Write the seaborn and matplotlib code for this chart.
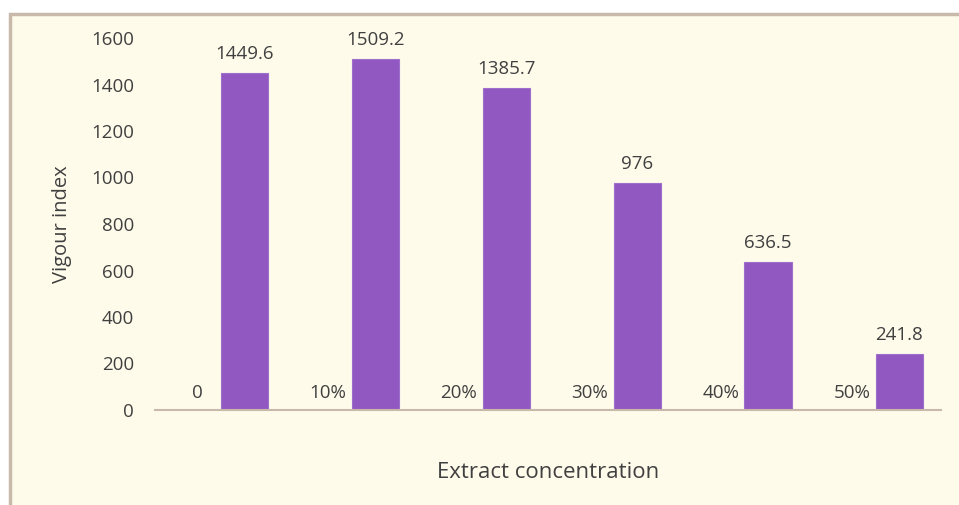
import matplotlib
matplotlib.use("Agg")
import matplotlib.pyplot as plt
from matplotlib.patches import Rectangle
import seaborn as sns
import pandas as pd

categories = ["0", "10%", "20%", "30%", "40%", "50%"]
vigour = [1449.6, 1509.2, 1385.7, 976, 636.5, 241.8]
label_series = [0, 0, 0, 0, 0, 0]

sns.set_theme(style="white")
plt.rcParams['font.family'] = ['Open Sans', 'DejaVu Sans']

text_color = "#404040"
cream = "#FEFBEA"
tan = "#C9B9AA"
bar_color = "#9158C2"

df = pd.DataFrame({
    "conc": categories * 2,
    "value": label_series + vigour,
    "series": ["cat"] * len(categories) + ["vigour"] * len(categories),
})

fig = plt.figure(figsize=(9.59, 5.05), dpi=100)
fig.patch.set_facecolor("white")
bg = Rectangle((10 / 959, -0.02), 1.0, 1 - 14 / 505 + 0.02,
               transform=fig.transFigure, facecolor=cream,
               edgecolor=tan, linewidth=2.5, zorder=-10)
fig.add_artist(bg)

ax = fig.add_axes([155 / 959, 1 - 410 / 505, (941 - 155) / 959, (410 - 38) / 505])
ax.set_facecolor("none")
ax.set_zorder(5)

sns.barplot(data=df, x="conc", y="value", hue="series", order=categories,
            hue_order=["cat", "vigour"],
            palette={"cat": bar_color, "vigour": bar_color}, saturation=1,
            width=0.72, dodge=True, legend=False, ax=ax, errorbar=None,
            edgecolor="#9F6FCB", linewidth=0.8)

cat_container, vig_container = ax.containers[0], ax.containers[1]
for bar in cat_container:
    bar.set_alpha(0)

for bar, lab in zip(cat_container, categories):
    ax.annotate(lab, (bar.get_x() + bar.get_width() / 2, 0),
                xytext=(0, 9), textcoords="offset points",
                ha="center", va="baseline", fontsize=13.5, color=text_color)
for bar, v in zip(vig_container, vigour):
    ax.annotate(f"{v:g}", (bar.get_x() + bar.get_width() / 2, bar.get_height()),
                xytext=(0, 10), textcoords="offset points",
                ha="center", va="baseline", fontsize=13.5, color=text_color,
                annotation_clip=False)

ax.set_ylim(0, 1600)
ax.set_xlim(-0.5, 5.5)
ax.set_yticks(range(0, 1601, 200))
ax.tick_params(axis="y", length=0, pad=15, labelsize=13.5, labelcolor=text_color)
ax.set_xticks([])
ax.set_xlabel("")
ax.set_ylabel("")
for s in ["top", "right", "left"]:
    ax.spines[s].set_visible(False)
ax.spines["bottom"].set_color(tan)
ax.spines["bottom"].set_linewidth(1.5)

fig.text(62 / 959, 1 - 224 / 505, "Vigour index", rotation=90, ha="center",
         va="center", fontsize=14.5, color=text_color)
fig.text(548 / 959, 1 - 472 / 505, "Extract concentration", ha="center",
         va="center", fontsize=16, color=text_color)

fig.savefig("out.png", dpi=100, facecolor=fig.get_facecolor())
